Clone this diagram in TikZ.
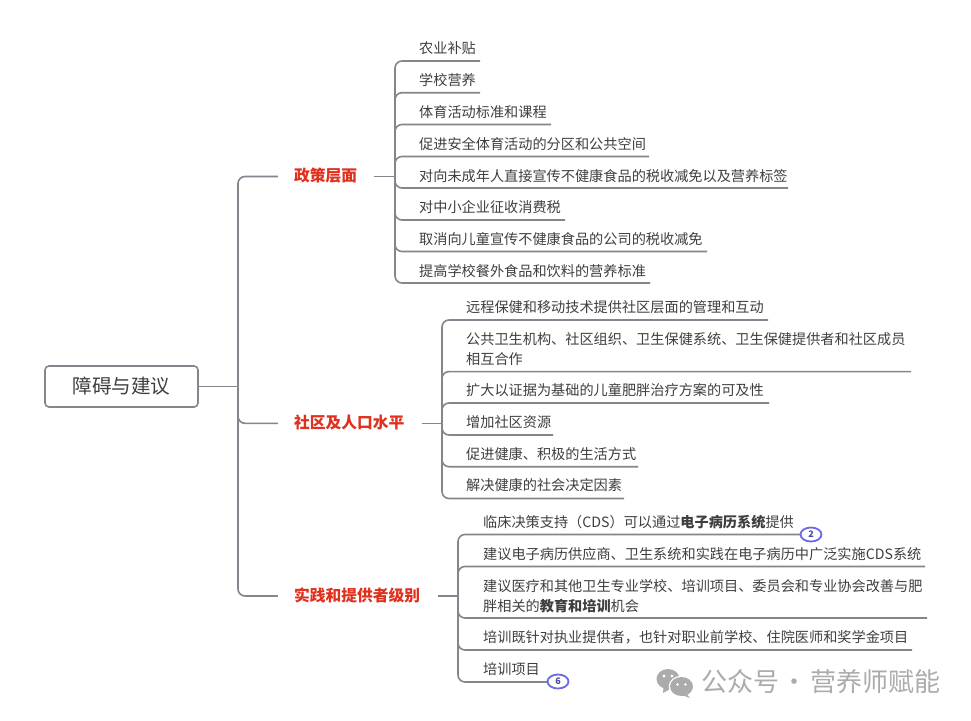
\documentclass[tikz,border=0pt]{standalone}
\usepackage{fontspec}
\setmainfont{Noto Sans CJK SC}
\usetikzlibrary{calc,shapes.geometric}
\definecolor{linegray}{HTML}{85858D}
\definecolor{txtgray}{HTML}{3F3F3F}
\definecolor{brred}{HTML}{E0301E}
\definecolor{badgeblue}{HTML}{6A6AE6}
\definecolor{wmgray}{HTML}{ABABAB}
\tikzset{
  conn/.style={draw=linegray,line width=1.6pt,rounded corners=7pt},
  rootbox/.style={draw=linegray,line width=1.6pt,rounded corners=4pt,minimum width=153pt,minimum height=41pt,inner sep=0pt,text=txtgray,font=\fontsize{19.6}{22}\selectfont},
  branch/.style={minimum height=18pt,inner sep=0pt,text=brred,font=\fontsize{15.75}{18}\selectfont\bfseries},
  leaf/.style={anchor=west,inner sep=0pt,yshift=-0.5pt,align=left,text=txtgray,font=\fontsize{14.17}{19.4}\selectfont},
  badge/.style={ellipse,draw=badgeblue,line width=1.8pt,fill=white,minimum width=21pt,minimum height=14pt,inner sep=0pt,text=badgeblue!70!black,font=\fontsize{9}{10}\selectfont\bfseries},
  watermark/.style={inner sep=0pt,anchor=west,text=wmgray,font=\fontsize{26}{28}\selectfont}
}
% id, junction, text x, text y, line end x, line y, text
\newcommand{\lf}[7]{%
  \coordinate (u#1) at (#5,#6);
  \node[leaf] (l#1) at (#3,#4) {#7};
  \draw[conn] (#2) |- (u#1);
}
\begin{document}
\begin{tikzpicture}[x=1pt,y=-1pt]
\useasboundingbox (0,0) rectangle (971,720);
\fill[white] (0,0) rectangle (971,720);

\node[rootbox] (root) at (121.5,386.5) {障碍与建议};
\coordinate (trunk) at (238,386.5);
\draw[conn] (root.east) -- (trunk);

\node[branch,minimum width=96pt] (b1) at (326,176.5) {};
\node[branch,minimum width=144pt] (b2) at (350,423.3) {};
\node[branch,minimum width=160pt] (b3) at (358,596) {};
\node[branch,anchor=west] at (294,176) {政策层面};
\node[branch,anchor=west] at (294,422.5) {社区及人口水平};
\node[branch,anchor=west] at (294,595.5) {实践和提供者级别};

\draw[conn] (trunk) |- (b1.west);
\draw[conn] (trunk) |- (b2.west);
\draw[conn] (trunk) |- (b3.west);

\coordinate (j1) at (395,176.5);
\coordinate (j2) at (442,423.3);
\coordinate (j3) at (458,596);
\draw[conn] (b1.east) -- (j1);
\draw[conn] (b2.east) -- (j2);
\draw[conn] (b3.east) -- (j3);

\lf{11}{j1}{419}{48}{480}{61}{农业补贴}
\lf{12}{j1}{419}{80}{480}{92.7}{学校营养}
\lf{13}{j1}{419}{112}{551}{124.5}{体育活动标准和课程}
\lf{14}{j1}{419}{143.5}{649}{156.5}{促进安全体育活动的分区和公共空间}
\lf{15}{j1}{419}{175.5}{788}{188}{对向未成年人直接宣传不健康食品的税收减免以及营养标签}
\lf{16}{j1}{419}{207}{565}{220}{对中小企业征收消费税}
\lf{17}{j1}{419}{239}{707}{251.5}{取消向儿童宣传不健康食品的公司的税收减免}
\lf{18}{j1}{419}{270.5}{650}{283}{提高学校餐外食品和饮料的营养标准}

\lf{21}{j2}{466}{307}{768}{320}{远程保健和移动技术提供社区层面的管理和互动}
\lf{22}{j2}{466}{348.5}{911}{371.6}{公共卫生机构、社区组织、卫生保健系统、卫生保健提供者和社区成员\\相互合作}
\lf{23}{j2}{466}{390}{769}{403}{扩大以证据为基础的儿童肥胖治疗方案的可及性}
\lf{24}{j2}{466}{422}{553}{435}{增加社区资源}
\lf{25}{j2}{466}{453.5}{638}{466.7}{促进健康、积极的生活方式}
\lf{26}{j2}{466}{485}{624}{498.5}{解决健康的社会决定因素}

\lf{31}{j3}{483}{522}{801}{534.5}{临床决策支持（CDS）可以通过\textbf{电子病历系统}提供}
\lf{32}{j3}{483}{553.5}{925}{566.5}{建议电子病历供应商、卫生系统和实践在电子病历中广泛实施CDS系统}
\lf{33}{j3}{483}{595.5}{927}{618}{建议医疗和其他卫生专业学校、培训项目、委员会和专业协会改善与肥\\胖相关的\textbf{教育和培训}机会}
\lf{34}{j3}{483}{637}{912}{650}{培训既针对执业提供者，也针对职业前学校、住院医师和奖学金项目}
\lf{35}{j3}{483}{668.5}{548}{682}{培训项目}

\node[badge] (bd1) at (811,534.5) {2};
\node[badge] (bd2) at (558,681.5) {6};

% watermark
\begin{scope}[wmgray]
  \fill (668,679) ellipse (11.5pt and 10pt);
  \fill (672,688) -- (663,693) -- (664,683) -- cycle;
  \fill[white] (681.5,686.5) ellipse (12.8pt and 10.8pt);
  \fill (681.5,686.5) ellipse (11.5pt and 9.5pt);
  \fill (686,693) -- (690,698) -- (679,694) -- cycle;
  \fill[white] (664,676) circle (1.6pt) (672,676) circle (1.6pt);
  \fill[white] (677.5,684.5) circle (1.4pt) (685.5,684.5) circle (1.4pt);
\end{scope}
\node[watermark] (wm) at (701,682) {公众号\makebox[31pt]{·}营养师赋能};
\end{tikzpicture}
\end{document}
